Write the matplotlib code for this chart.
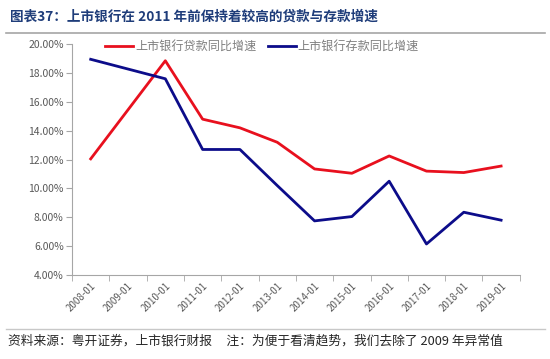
import numpy as np
import matplotlib.pyplot as plt
from matplotlib.ticker import FixedLocator, NullFormatter

plt.rcParams['font.family'] = ['Noto Sans CJK SC', 'DejaVu Sans']

years = ['2008-01', '2009-01', '2010-01', '2011-01', '2012-01', '2013-01',
         '2014-01', '2015-01', '2016-01', '2017-01', '2018-01', '2019-01']
# 2009 removed as outlier (see footnote)
loan_growth = [12.05, np.nan, 18.85, 14.8, 14.2, 13.2, 11.35, 11.05, 12.25, 11.2, 11.1, 11.55]
deposit_growth = [18.95, np.nan, 17.6, 12.7, 12.7, 10.2, 7.75, 8.05, 10.5, 6.15, 8.35, 7.8]

fig = plt.figure(figsize=(5.5, 3.59), dpi=100)
ax = fig.add_axes([0.131, 0.234, 0.814, 0.643])

x = np.arange(len(years))
loan = np.array(loan_growth)
dep = np.array(deposit_growth)
m1 = ~np.isnan(loan)
m2 = ~np.isnan(dep)
ax.plot(x[m1], loan[m1], color='#e8101e', lw=2.0, label='上市银行贷款同比增速')
ax.plot(x[m2], dep[m2], color='#0c0c8a', lw=2.0, label='上市银行存款同比增速')

ax.set_xlim(-0.5, len(years) - 0.5)
ax.set_ylim(4, 20)
ax.set_yticks(np.arange(4, 20.1, 2))
ax.set_yticklabels(['%.2f%%' % v for v in np.arange(4, 20.1, 2)], color='#595959', fontsize=7.5)

ax.set_xticks(x)
ax.set_xticklabels(years, rotation=45, ha='right', rotation_mode='anchor',
                   color='#595959', fontsize=7)
ax.tick_params(axis='x', which='major', length=0, pad=4)
ax.xaxis.set_minor_locator(FixedLocator(np.arange(-0.5, len(years), 1)))
ax.xaxis.set_minor_formatter(NullFormatter())
ax.tick_params(axis='x', which='minor', length=4, color='#a6a6a6')
ax.tick_params(axis='y', length=4, color='#a6a6a6', pad=2)

for s in ['top', 'right']:
    ax.spines[s].set_visible(False)
for s in ['left', 'bottom']:
    ax.spines[s].set_color('#a6a6a6')
    ax.spines[s].set_linewidth(0.8)

leg = ax.legend(loc='upper left', bbox_to_anchor=(0.05, 1.065), ncol=2, frameon=False,
                fontsize=8.7, handlelength=2.3, handletextpad=0.15, columnspacing=1.0)
for t in leg.get_texts():
    t.set_color('#7f7f7f')

fig.text(0.018, 0.955, '图表37：上市银行在 2011 年前保持着较高的贷款与存款增速',
         fontsize=9.8, fontweight='bold', color='#1f3d7a', va='center')
fig.add_artist(plt.Line2D([0.01, 0.99], [0.908, 0.908], color='#a6a6a6', lw=1.2))
fig.add_artist(plt.Line2D([0.01, 0.99], [0.084, 0.084], color='#c8c8c8', lw=1.0))
fig.text(0.015, 0.05, '资料来源：粤开证券，上市银行财报     注：为便于看清趋势，我们去除了 2009 年异常值',
         fontsize=9.2, style='italic', color='#262626', va='center')

fig.savefig('out.png', dpi=100)
